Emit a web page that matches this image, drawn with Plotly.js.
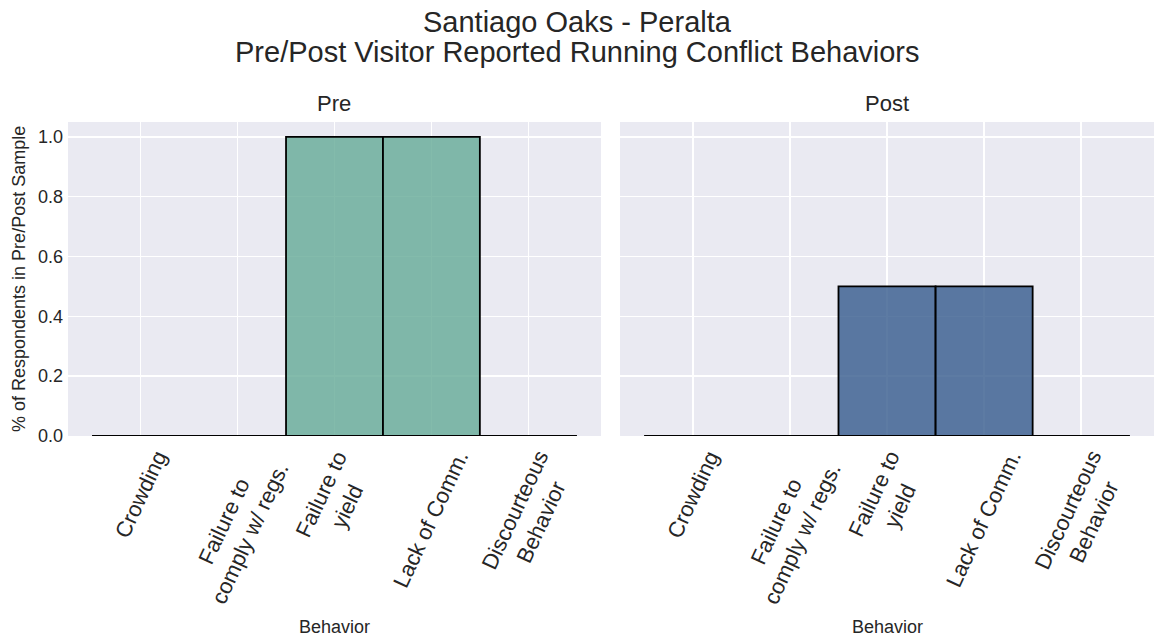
<!DOCTYPE html>
<html>
<head>
<meta charset="utf-8">
<script src="https://cdn.plot.ly/plotly-3.0.1.min.js"></script>
<style>html,body{margin:0;padding:0;background:#fff;}#chart{width:1154px;height:639px;}</style>
</head>
<body>
<div id="chart"></div>
<script>
const categories = ["Crowding", "Failure to comply w/ regs.", "Failure to yield", "Lack of Comm.", "Discourteous Behavior"];
const tickLabels = ["Crowding", "Failure to<br>comply w/ regs.", "Failure to<br>yield", "Lack of Comm.", "Discourteous<br>Behavior"];
const preValues = [0, 0, 1.0, 1.0, 0];
const postValues = [0, 0, 0.5, 0.5, 0];
const panelTitles = ["Pre", "Post"];
const titleLines = ["Santiago Oaks - Peralta", "Pre/Post Visitor Reported Running Conflict Behaviors"];
const yTicks = [0, 0.2, 0.4, 0.6, 0.8, 1.0];

const FONT = "Liberation Sans, Arial, sans-serif";
const TXT = "#262626";
const idx = categories.map((c, i) => i);

function bars(vals, color, xa, ya) {
  return {
    type: "bar", x: idx, y: vals, width: 1, xaxis: xa, yaxis: ya,
    marker: {color: color, line: {color: "#000", width: 1.8}},
    hoverinfo: "skip", showlegend: false
  };
}
function baseline(xa, ya) {
  return {
    type: "scatter", mode: "lines", x: [idx[0] - 0.5, idx[idx.length - 1] + 0.5], y: [0, 0],
    xaxis: xa, yaxis: ya, line: {color: "#000", width: 1.8}, hoverinfo: "skip", showlegend: false
  };
}

const data = [
  bars(preValues, "rgba(100,170,150,0.8)", "x", "y"),
  baseline("x", "y"),
  bars(postValues, "rgba(52,90,140,0.8)", "x2", "y2"),
  baseline("x2", "y2")
];

const yDom = [0.3177, 0.8091];
const xDom1 = [0.0589, 0.5208];
const xDom2 = [0.5373, 1.0];

function xaxis(dom) {
  return {
    domain: dom, range: [-0.75, 4.75], tickvals: idx, showticklabels: false,
    showgrid: true, gridcolor: "#ffffff", gridwidth: 1.5, zeroline: false, ticks: "",
    showline: false, fixedrange: true
  };
}
function yaxis(dom, anchor, labels) {
  return {
    domain: dom, anchor: anchor, range: [0, 1.05], tickvals: yTicks, ticktext: yTicks.map(v => v.toFixed(1)),
    showticklabels: labels, tickfont: {family: FONT, size: 18, color: TXT},
    showgrid: true, gridcolor: "#ffffff", gridwidth: 1.5, zeroline: false, ticks: "",
    ticklabelstandoff: 4, showline: false, fixedrange: true, automargin: false
  };
}

const annotations = [];
[["x", xDom1], ["x2", xDom2]].forEach(([xa, dom], p) => {
  tickLabels.forEach((t, i) => {
    annotations.push({
      xref: xa, yref: "paper", x: idx[i], y: yDom[0], yshift: -8,
      text: t, textangle: -65, xanchor: "center", yanchor: "top", align: "center",
      showarrow: false, font: {family: FONT, size: 22, color: TXT}
    });
  });
  annotations.push({
    xref: "paper", yref: "paper", x: (dom[0] + dom[1]) / 2, y: yDom[1], yshift: 4,
    text: panelTitles[p], xanchor: "center", yanchor: "bottom", showarrow: false,
    font: {family: FONT, size: 22, color: TXT}
  });
  annotations.push({
    xref: "paper", yref: "paper", x: (dom[0] + dom[1]) / 2, y: 0, yshift: 0,
    text: "Behavior", xanchor: "center", yanchor: "bottom", showarrow: false,
    font: {family: FONT, size: 18, color: TXT}
  });
});
annotations.push({
  xref: "paper", yref: "paper", x: 0, xshift: 7, y: (yDom[0] + yDom[1]) / 2,
  text: "% of Respondents in Pre/Post Sample", textangle: -90, xanchor: "left", yanchor: "middle",
  showarrow: false, font: {family: FONT, size: 18, color: TXT}
});
titleLines.forEach((t, i) => {
  annotations.push({
    xref: "paper", yref: "paper", x: 0.5, y: 1, yshift: -(22 + 30 * i),
    text: t, xanchor: "center", yanchor: "middle", align: "center", showarrow: false,
    font: {family: FONT, size: 29, color: TXT}
  });
});

const layout = {
  width: 1154, height: 639,
  margin: {l: 0, r: 0, t: 0, b: 0},
  paper_bgcolor: "#ffffff", plot_bgcolor: "#eaeaf2",
  xaxis: xaxis(xDom1),
  yaxis: yaxis(yDom, "x", true),
  xaxis2: xaxis(xDom2),
  yaxis2: yaxis(yDom, "x2", false),
  annotations: annotations,
  bargap: 0,
  showlegend: false
};

Plotly.newPlot("chart", data, layout, {staticPlot: true, displayModeBar: false});
</script>
</body>
</html>
